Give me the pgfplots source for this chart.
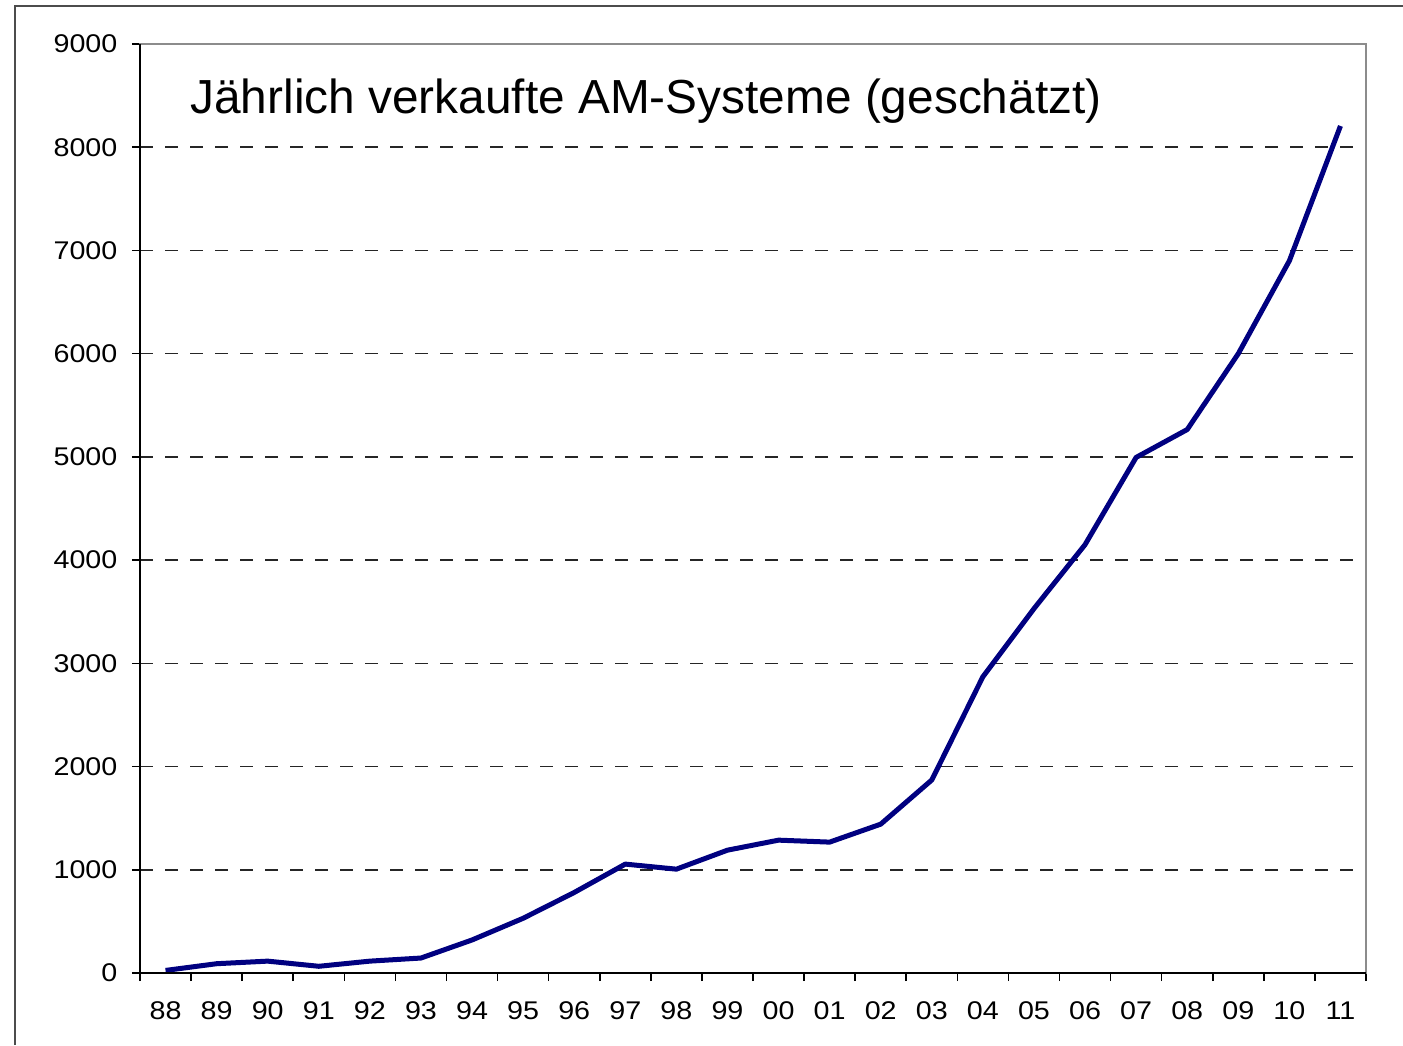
\documentclass[border=0pt]{standalone}
\usepackage{pgfplots}
\pgfplotsset{compat=1.18}
\usepackage{fontspec}
\setmainfont{Liberation Sans}
\definecolor{navyline}{RGB}{0,0,128}
\begin{document}
\begin{tikzpicture}
\useasboundingbox (0,0) rectangle (701.5pt,522.5pt);
\draw[line width=1pt, black!70] (7.5pt,0) -- (7.5pt,519.5pt) -- (701.5pt,519.5pt);
\begin{axis}[
  at={(70pt,36pt)}, anchor=south west,
  scale only axis, width=613pt, height=464.5pt,
  xmin=-0.5, xmax=23.5, ymin=0, ymax=9000,
  xtick={-0.5,0.5,...,23.5},
  x tick label as interval,
  xticklabels={88,89,90,91,92,93,94,95,96,97,98,99,00,01,02,03,04,05,06,07,08,09,10,11},
  ytick={0,1000,...,9000},
  xtick pos=bottom, ytick pos=left,
  tick align=outside, major tick length=4pt,
  every tick/.style={black, line width=0.8pt},
  axis line style={black!45, line width=1.2pt},
  ymajorgrids,
  major grid style={black!85, line width=0.8pt, dash pattern=on 6.5pt off 6pt},
  /pgf/number format/assume math mode=true,
  /pgf/number format/set thousands separator={},
  tick label style={font=\fontsize{12.8}{14}\selectfont, xscale=1.12},
  xticklabel style={yshift=-7pt},
  yticklabel style={xshift=-3pt},
  clip=false,
]
\addplot[navyline, line width=2.5pt, line join=round] coordinates {
(0,25) (1,90) (2,115) (3,65) (4,115) (5,145) (6,320) (7,530) (8,780)
(9,1055) (10,1006) (11,1190) (12,1287) (13,1268) (14,1442) (15,1870)
(16,2870) (17,3530) (18,4150) (19,4995) (20,5265) (21,6000) (22,6900) (23,8206)
};
\draw[black, line width=1.2pt] (rel axis cs:0,1) -- (rel axis cs:0,0) -- (rel axis cs:1,0);
\node[anchor=west, font=\fontsize{23.9}{28}\selectfont, inner sep=0pt] at (rel axis cs:0.0408,0.9386) {Jährlich verkaufte AM-Systeme (geschätzt)};
\end{axis}
\end{tikzpicture}
\end{document}
